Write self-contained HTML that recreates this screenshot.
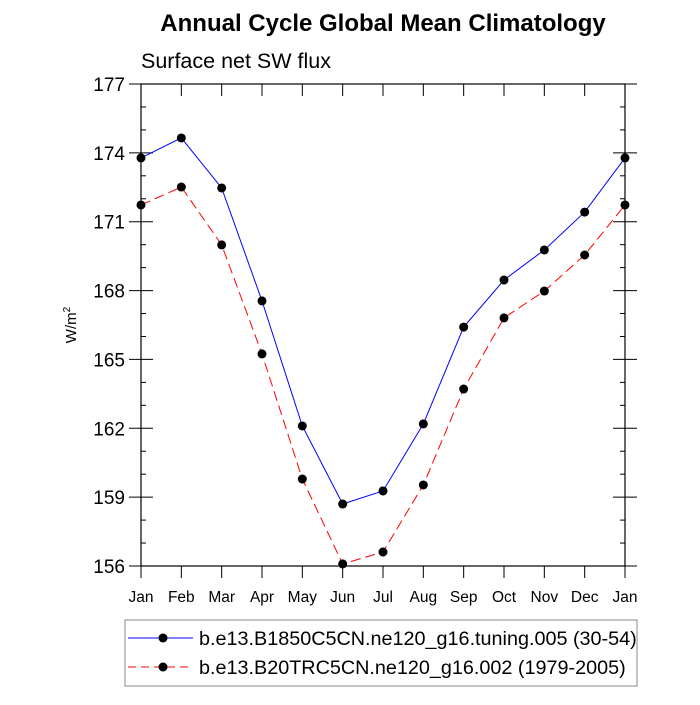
<!DOCTYPE html>
<html><head><meta charset="utf-8"><style>
body{margin:0;background:#fff}
svg text{font-family:"Liberation Sans",sans-serif}
</style></head><body>
<svg id="c" width="700" height="700" xmlns="http://www.w3.org/2000/svg">
<text x="383" y="31" font-size="24" font-weight="bold" text-anchor="middle">Annual Cycle Global Mean Climatology</text>
<text x="141" y="68" font-size="21.5">Surface net SW flux</text>
<text transform="translate(76,325) rotate(-90)" font-size="15" text-anchor="middle">W/m<tspan dy="-6" font-size="10">2</tspan></text>
<g id="grid"></g>
<g id="series"></g>
<rect x="125" y="620" width="512" height="66" fill="none" stroke="#888" stroke-width="1"/>
<g>
<line x1="128" y1="638" x2="193" y2="638" stroke="blue" stroke-width="1"/><circle cx="163" cy="638" r="4.5"/>
<text x="199" y="645" font-size="19.8">b.e13.B1850C5CN.ne120_g16.tuning.005 (30-54)</text></g>
<g>
<line x1="128" y1="667" x2="193" y2="667" stroke="red" stroke-width="1" stroke-dasharray="8,5"/><circle cx="163" cy="667" r="4.5"/>
<text x="199" y="674" font-size="19.8">b.e13.B20TRC5CN.ne120_g16.002 (1979-2005)</text></g>
</svg>
<script>
const months=["Jan","Feb","Mar","Apr","May","Jun","Jul","Aug","Sep","Oct","Nov","Dec","Jan"];
const blueVals=[173.78,174.65,172.47,167.55,162.1,158.7,159.27,162.19,166.41,168.46,169.77,171.42,173.78];
const redVals=[171.73,172.51,169.99,165.24,159.79,156.09,156.61,159.53,163.71,166.81,167.98,169.55,171.73];
const yTicks=[156,159,162,165,168,171,174,177];
const L=141,R=625,T=84,B=566,yMin=156,yMax=177;
const xs=i=>L+i*(R-L)/12, ys=v=>B-(v-yMin)/(yMax-yMin)*(B-T);
const NS="http://www.w3.org/2000/svg";
function mk(t,a,p){const e=document.createElementNS(NS,t);for(const k in a)e.setAttribute(k,a[k]);p.appendChild(e);return e;}
const g=document.getElementById('grid'),s=document.getElementById('series');
const frame=mk('rect',{x:L,y:T,width:R-L,height:B-T,fill:'none',stroke:'#000','stroke-width':1.2},g);


for(let v=yMin;v<=yMax;v++){const y=ys(v),maj=(v-yMin)%3===0;
mk('line',{x1:maj?L-12:L,x2:L+(maj?12:5),y1:y,y2:y,stroke:'#000'},g);
mk('line',{x1:R-(maj?12:5),x2:maj?R+12:R,y1:y,y2:y,stroke:'#000'},g);}
yTicks.forEach(v=>{const t=mk('text',{x:L-16,y:ys(v)+7,'font-size':19,'text-anchor':'end'},g);t.textContent=v;

});
months.forEach((m,i)=>{const x=xs(i);
mk('line',{x1:x,x2:x,y1:B,y2:B+12,stroke:'#000'},g);
mk('line',{x1:x,x2:x,y1:T,y2:T+12,stroke:'#000'},g);
const t=mk('text',{x:x,y:B+36,'font-size':15.5,'text-anchor':'middle'},g);t.textContent=m;

});
function draw(vals,col,dash,name){
const pl=mk('polyline',{points:vals.map((v,i)=>xs(i)+','+ys(v)).join(' '),fill:'none',stroke:col,'stroke-width':1,'stroke-dasharray':dash},s);


vals.forEach((v,i)=>{const c=mk('circle',{cx:xs(i),cy:ys(v),r:4.5,fill:'#000'},s);

});}
draw(redVals,'red','10,5','red-series');
draw(blueVals,'blue','none','blue-series');
</script>
</body></html>
